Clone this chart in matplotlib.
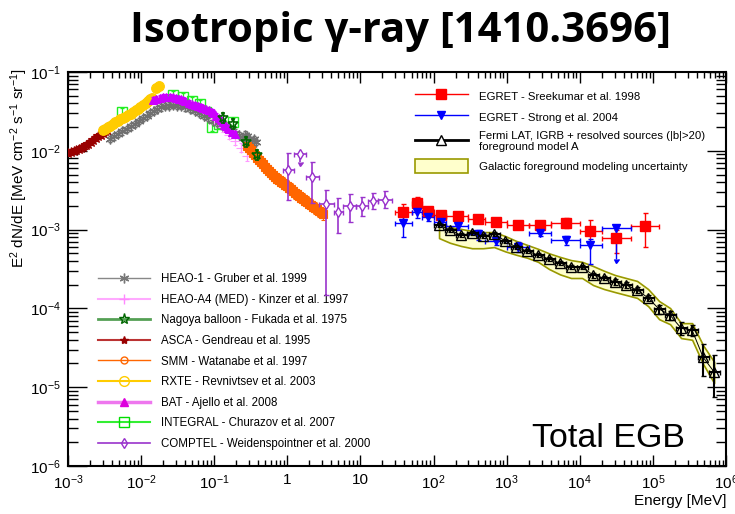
import matplotlib

matplotlib.use("Agg")
import matplotlib.pyplot as plt
import numpy as np
from matplotlib.lines import Line2D
from matplotlib.patches import Patch
from matplotlib.ticker import FuncFormatter, LogLocator, NullFormatter

plt.rcParams["font.family"] = ["Liberation Sans", "DejaVu Sans"]
plt.rcParams["mathtext.fontset"] = "custom"
plt.rcParams["mathtext.rm"] = "Liberation Sans"
plt.rcParams["mathtext.it"] = "Liberation Sans:italic"
plt.rcParams["mathtext.bf"] = "Liberation Sans:bold"

# ---- data (E in MeV, E^2 dN/dE in MeV cm^-2 s^-1 sr^-1) ----
asca_e = [1.0e-3, 1.1e-3, 1.2e-3, 1.3e-3, 1.4e-3, 1.5e-3, 1.6e-3, 1.75e-3, 1.9e-3,
          2.05e-3, 2.2e-3, 2.4e-3, 2.6e-3, 2.8e-3, 3.0e-3, 3.2e-3, 3.4e-3]
asca_f = [9.4e-3, 9.6e-3, 9.9e-3, 1.02e-2, 1.05e-2, 1.08e-2, 1.12e-2, 1.17e-2, 1.22e-2,
          1.3e-2, 1.37e-2, 1.45e-2, 1.54e-2, 1.61e-2, 1.68e-2, 1.76e-2, 1.84e-2]

rxte_e = [3.0e-3, 3.25e-3, 3.5e-3, 3.8e-3, 4.1e-3, 4.45e-3, 4.8e-3, 5.2e-3, 5.7e-3,
          6.1e-3, 6.6e-3, 7.2e-3, 7.8e-3, 8.4e-3, 9.1e-3, 9.8e-3, 1.06e-2, 1.15e-2,
          1.25e-2, 1.33e-2, 1.41e-2, 1.6e-2, 1.75e-2]
rxte_f = [1.84e-2, 1.9e-2, 1.99e-2, 2.08e-2, 2.19e-2, 2.3e-2, 2.4e-2, 2.5e-2, 2.6e-2,
          2.72e-2, 2.85e-2, 2.97e-2, 3.1e-2, 3.25e-2, 3.4e-2, 3.6e-2, 3.8e-2, 4.05e-2,
          4.3e-2, 4.5e-2, 4.7e-2, 6.3e-2, 6.6e-2]

heao1_e = [3.8e-3, 4.3e-3, 4.8e-3, 5.5e-3, 6.4e-3, 7.3e-3, 8.3e-3, 9.4e-3, 1.06e-2,
           1.2e-2, 1.33e-2, 1.5e-2, 1.65e-2, 1.9e-2, 2.13e-2, 2.4e-2, 2.7e-2, 3.1e-2,
           3.5e-2, 4.0e-2, 4.7e-2, 5.4e-2, 6.2e-2, 7.2e-2, 8.3e-2, 9.5e-2, 0.11, 0.127,
           0.146, 0.167, 0.19, 0.22, 0.25, 0.265, 0.28, 0.295, 0.31, 0.33, 0.35, 0.37]
heao1_f = [1.41e-2, 1.52e-2, 1.63e-2, 1.76e-2, 1.89e-2, 2.04e-2, 2.19e-2, 2.4e-2, 2.6e-2,
           2.8e-2, 3.0e-2, 3.2e-2, 3.4e-2, 3.55e-2, 3.7e-2, 3.75e-2, 3.8e-2, 3.75e-2,
           3.7e-2, 3.55e-2, 3.4e-2, 3.2e-2, 3.0e-2, 2.8e-2, 2.6e-2, 2.42e-2, 2.25e-2,
           2.1e-2, 1.95e-2, 1.82e-2, 1.7e-2, 1.58e-2, 1.46e-2, 1.6e-2, 1.52e-2, 1.4e-2,
           1.3e-2, 1.22e-2, 1.4e-2, 1.3e-2]

bat_e = [0.0145, 0.016, 0.018, 0.02, 0.022, 0.025, 0.0275, 0.03, 0.0325, 0.035,
         0.0375, 0.04, 0.045, 0.05, 0.055, 0.06, 0.065, 0.07, 0.077, 0.085, 0.092,
         0.1, 0.107, 0.115, 0.122, 0.13, 0.137, 0.145, 0.152, 0.16, 0.175, 0.19]
bat_f = [4.4e-2, 4.6e-2, 4.7e-2, 4.8e-2, 4.8e-2, 4.8e-2, 4.75e-2, 4.7e-2, 4.6e-2,
         4.5e-2, 4.4e-2, 4.3e-2, 4.1e-2, 3.9e-2, 3.8e-2, 3.7e-2, 3.6e-2, 3.5e-2,
         3.35e-2, 3.25e-2, 3.1e-2, 3.0e-2, 2.8e-2, 2.6e-2, 2.45e-2, 2.3e-2, 2.15e-2,
         2.05e-2, 1.97e-2, 1.9e-2, 1.75e-2, 1.65e-2]

integral_e = [5.5e-3, 2.74e-2, 3.8e-2, 5.0e-2, 6.4e-2, 7.8e-2, 9.4e-2, 0.117, 0.18]
integral_f = [3.1e-2, 5.1e-2, 4.8e-2, 4.3e-2, 3.9e-2, 3.1e-2, 2.0e-2, 2.2e-2, 2.3e-2]

heaoa4_e = [0.10, 0.13, 0.16, 0.19, 0.23, 0.28]
heaoa4_f = [2.5e-2, 2.0e-2, 1.6e-2, 1.35e-2, 1.1e-2, 8.5e-3]

nagoya_e = [0.13, 0.18, 0.27, 0.39]
nagoya_f = [2.6e-2, 2.2e-2, 1.29e-2, 8.9e-3]

smm_e = [0.283, 0.302, 0.321, 0.343, 0.365, 0.389, 0.413, 0.44, 0.469, 0.5, 0.532,
         0.567, 0.604, 0.645, 0.686, 0.73, 0.777, 0.83, 0.881, 0.94, 1.0, 1.07,
         1.135, 1.21, 1.288, 1.37, 1.46, 1.56, 1.66, 1.77, 1.88, 2.0, 2.13, 2.27,
         2.42, 2.58, 2.74, 2.92, 3.11]
smm_f = [1.15e-2, 1.08e-2, 1.02e-2, 9.5e-3, 8.85e-3, 8.2e-3, 7.64e-3, 7.2e-3, 6.8e-3,
         6.3e-3, 5.87e-3, 5.55e-3, 5.22e-3, 4.9e-3, 4.65e-3, 4.45e-3, 4.26e-3, 4.05e-3,
         3.9e-3, 3.72e-3, 3.57e-3, 3.42e-3, 3.27e-3, 3.08e-3, 2.91e-3, 2.79e-3, 2.67e-3,
         2.55e-3, 2.44e-3, 2.34e-3, 2.24e-3, 2.14e-3, 2.05e-3, 1.96e-3, 1.88e-3, 1.8e-3,
         1.72e-3, 1.65e-3, 1.58e-3]

comptel_e = [1.02, 1.48, 2.18, 3.35, 5.0, 7.1, 10.4, 14.8, 21.5]
comptel_elo = [0.86, 1.22, 1.8, 2.7, 4.3, 5.8, 8.6, 12.7, 17.5]
comptel_ehi = [1.22, 1.8, 2.7, 4.3, 5.8, 8.6, 12.7, 17.5, 27.0]
comptel_f = [5.7e-3, 9.1e-3, 4.7e-3, 2.1e-3, 1.67e-3, 2.0e-3, 2.0e-3, 2.3e-3, 2.4e-3]
comptel_fhi = [9.4e-3, 9.1e-3, 7.2e-3, 3.2e-3, 2.5e-3, 2.8e-3, 2.6e-3, 2.9e-3, 3.1e-3]
comptel_flo = [2.4e-3, 7.2e-3, 2.2e-3, 1.5e-4, 9.1e-4, 1.25e-3, 1.5e-3, 1.8e-3, 1.9e-3]
comptel_ul = [False, True, False, False, False, False, False, False, False]

egret_e = [38.8, 60, 85, 125, 214, 400, 725, 1450, 2900, 6500, 14000, 31000, 78000]
egret_elo = [30, 50, 70, 100, 150, 300, 500, 1000, 2000, 4000, 10000, 20000, 50000]
egret_ehi = [50, 70, 100, 150, 300, 500, 1000, 2000, 4000, 10000, 20000, 50000, 120000]
sreek_f = [1.67e-3, 2.2e-3, 1.72e-3, 1.53e-3, 1.48e-3, 1.36e-3, 1.25e-3, 1.15e-3,
           1.15e-3, 1.21e-3, 9.5e-4, 7.8e-4, 1.11e-3]
sreek_fhi = [2.11e-3, 2.6e-3, 1.94e-3, 1.67e-3, 1.6e-3, 1.5e-3, 1.37e-3, 1.27e-3,
             1.27e-3, 1.4e-3, 1.33e-3, 9.9e-4, 1.63e-3]
sreek_flo = [1.25e-3, 1.88e-3, 1.54e-3, 1.40e-3, 1.36e-3, 1.24e-3, 1.13e-3, 1.04e-3,
             1.04e-3, 1.05e-3, 6.7e-4, 5.0e-4, 6.0e-4]

strong_e = [38.8, 60, 85, 125, 214, 400, 725, 1450, 2900, 6500, 14000, 31000]
strong_elo = [30, 50, 70, 100, 150, 300, 500, 1000, 2000, 4000, 10000, 20000]
strong_ehi = [50, 70, 100, 150, 300, 500, 1000, 2000, 4000, 10000, 20000, 50000]
strong_f = [1.21e-3, 1.67e-3, 1.44e-3, 1.25e-3, 1.11e-3, 8.7e-4, 7.2e-4, 6.0e-4,
            9.1e-4, 7.4e-4, 6.4e-4, 1.05e-3]
strong_fhi = [1.62e-3, 1.97e-3, 1.62e-3, 1.37e-3, 1.24e-3, 9.9e-4, 8.3e-4, 6.9e-4,
              1.0e-3, 8.3e-4, 7.5e-4, 1.05e-3]
strong_flo = [8.1e-4, 1.4e-3, 1.28e-3, 1.14e-3, 1.0e-3, 7.4e-4, 6.3e-4, 5.2e-4,
              8.2e-4, 6.4e-4, 3.7e-4, 4.2e-4]
strong_ul = [False] * 11 + [True]

fermi_e = [118.9, 168.1, 237.7, 336.1, 475.3, 672.1, 950.6, 1344, 1901, 2689,
           3802, 5377, 7603, 10752, 15205, 21503, 30409, 43003, 60814, 86000,
           121619, 171989, 243220, 343950, 486407, 687860]
fermi_f = [1.15e-3, 9.9e-4, 8.5e-4, 9.0e-4, 8.3e-4, 8.8e-4, 7.2e-4, 6.0e-4,
           5.35e-4, 4.76e-4, 4.24e-4, 3.77e-4, 3.35e-4, 3.35e-4, 2.65e-4, 2.43e-4,
           2.16e-4, 1.98e-4, 1.71e-4, 1.36e-4, 9.8e-5, 8.2e-5, 5.6e-5, 5.3e-5,
           2.4e-5, 1.56e-5]
fermi_fhi = [1.22e-3, 1.05e-3, 9.0e-4, 9.5e-4, 8.8e-4, 9.3e-4, 7.6e-4, 6.35e-4,
             5.7e-4, 5.05e-4, 4.5e-4, 4.0e-4, 3.55e-4, 3.55e-4, 2.85e-4, 2.6e-4,
             2.33e-4, 2.14e-4, 1.85e-4, 1.48e-4, 1.1e-4, 9.2e-5, 6.7e-5, 6.2e-5,
             3.5e-5, 2.6e-5]
fermi_flo = [1.08e-3, 9.3e-4, 8.0e-4, 8.5e-4, 7.8e-4, 8.3e-4, 6.8e-4, 5.65e-4,
             5.0e-4, 4.47e-4, 4.0e-4, 3.55e-4, 3.15e-4, 3.15e-4, 2.45e-4, 2.26e-4,
             2.0e-4, 1.83e-4, 1.58e-4, 1.24e-4, 8.6e-5, 7.2e-5, 4.6e-5, 4.5e-5,
             1.4e-5, 7.5e-6]
band_hi = [1.2e-3, 1.08e-3, 1.02e-3, 9.6e-4, 9.3e-4, 9.3e-4, 8.3e-4, 7.2e-4,
           6.4e-4, 5.7e-4, 5.0e-4, 4.5e-4, 4.1e-4, 3.9e-4, 3.45e-4, 3.0e-4,
           2.65e-4, 2.43e-4, 2.23e-4, 1.76e-4, 1.24e-4, 1.01e-4, 6.5e-5, 6.5e-5,
           3.4e-5, 2.1e-5]
band_lo = [7.8e-4, 6.8e-4, 6.2e-4, 5.8e-4, 5.8e-4, 6.0e-4, 5.3e-4, 4.8e-4,
           4.4e-4, 3.9e-4, 3.16e-4, 2.7e-4, 2.43e-4, 2.43e-4, 1.98e-4, 1.76e-4,
           1.61e-4, 1.48e-4, 1.36e-4, 1.07e-4, 7.3e-5, 6.3e-5, 4.2e-5, 4.0e-5,
           1.97e-5, 1.13e-5]
fermi_half_bin = 10 ** 0.075

# relative scatter of the dense low-energy data sets
rel_err = {"asca": 0.10, "rxte": 0.12, "heao1": 0.10, "bat": 0.08,
           "integral": 0.12, "heaoa4": 0.15, "nagoya": 0.15, "smm": 0.18}


def dense(ax, e, f, rel, color, marker, ms, mfc=None, mew=0.8, z=2):
    f = np.asarray(f)
    ax.errorbar(e, f, yerr=[f - f / (1 + rel), f * rel], fmt="", marker=marker,
                ms=ms, color=color, mfc=mfc if mfc else color, mec=color, mew=mew,
                elinewidth=0.9, capsize=1.5, ls="none", zorder=z)


def binned(ax, e, elo, ehi, f, flo, fhi, color, marker, ms, mfc, z,
           uplims=None, elw=1.0):
    e, f = np.asarray(e), np.asarray(f)
    xerr = [e - np.asarray(elo), np.asarray(ehi) - e]
    yerr = [f - np.asarray(flo), np.asarray(fhi) - f]
    ax.errorbar(e, f, xerr=xerr, yerr=yerr, fmt="", marker=marker, ms=ms,
                color=color, mfc=mfc, mec=color, mew=1.0, elinewidth=elw,
                capsize=1.8, ls="none",
                uplims=uplims if uplims is not None else False, zorder=z)


fig = plt.figure(figsize=(7.35, 5.14), dpi=100)
ax = fig.add_axes([68 / 735, 1 - 466 / 514, 658 / 735, 394 / 514])
ax.set_xscale("log")
ax.set_yscale("log")
ax.set_xlim(1e-3, 1e6)
ax.set_ylim(1e-6, 1e-1)

dense(ax, integral_e, integral_f, rel_err["integral"], "#22ee22", "s", 7, mfc="none", mew=1.0, z=2)
dense(ax, heao1_e, heao1_f, rel_err["heao1"], "#707070", (6, 2, 0), 7, mew=1.0, z=3)
dense(ax, heaoa4_e, heaoa4_f, rel_err["heaoa4"], "#ff99ff", "+", 7, z=3)
dense(ax, smm_e, smm_f, rel_err["smm"], "#ff6600", "s", 6, z=3)
dense(ax, asca_e, asca_f, rel_err["asca"], "#990000", "*", 7, z=4)
dense(ax, rxte_e, rxte_f, rel_err["rxte"], "#ffcc00", "o", 7, z=4)
dense(ax, bat_e, bat_f, rel_err["bat"], "#cc00ff", "^", 6, z=5)
dense(ax, nagoya_e, nagoya_f, rel_err["nagoya"], "#006600", "*", 8, mfc="none", mew=1.2, z=6)
binned(ax, comptel_e, comptel_elo, comptel_ehi, comptel_f, comptel_flo, comptel_fhi,
       "#9933cc", "d", 5, "white", 6, uplims=comptel_ul, elw=1.2)

ax.fill_between(fermi_e, band_lo, band_hi, facecolor="#ffffcc",
                edgecolor="#999900", linewidth=1.2, zorder=6)
binned(ax, egret_e, egret_elo, egret_ehi, sreek_f, sreek_flo, sreek_fhi,
       "#ff0000", "s", 7, "#ff0000", 7)
binned(ax, strong_e, strong_elo, strong_ehi, strong_f, strong_flo, strong_fhi,
       "#0000ff", "v", 6, "#0000ff", 7, uplims=strong_ul)
fe = np.asarray(fermi_e)
binned(ax, fermi_e, fe / fermi_half_bin, fe * fermi_half_bin, fermi_f, fermi_flo,
       fermi_fhi, "black", "^", 6.5, "none", 8, elw=1.5)
ax.plot(fermi_e, fermi_f, color="black", lw=0.7, zorder=8)


def decade_label(v, pos):
    n = int(round(np.log10(v)))
    if n == 0:
        return "1"
    if n == 1:
        return "10"
    return rf"$10^{{{n}}}$"


for axis in (ax.xaxis, ax.yaxis):
    axis.set_major_locator(LogLocator(base=10, numticks=20))
    axis.set_minor_locator(LogLocator(base=10, subs=np.arange(2, 10), numticks=20))
    axis.set_major_formatter(FuncFormatter(decade_label))
    axis.set_minor_formatter(NullFormatter())

ax.tick_params(axis="both", which="both", direction="in", top=True, right=True,
               labelsize=11, width=1.0)
ax.tick_params(axis="x", which="major", length=8, pad=5)
ax.tick_params(axis="x", which="minor", length=4)
ax.tick_params(axis="y", which="major", length=14, pad=5)
ax.tick_params(axis="y", which="minor", length=7)
for sp in ax.spines.values():
    sp.set_linewidth(1.5)

ax.set_xlabel("Energy [MeV]", fontsize=11, loc="right")
ax.xaxis.set_label_coords(1.0, -0.07)
ax.set_ylabel(r"E$^{2}$ dN/dE [MeV cm$^{-2}$ s$^{-1}$ sr$^{-1}$]", fontsize=11, loc="top")
ax.yaxis.set_label_coords(-0.058, 1.010)

ax.text(0.938, 0.048, "Total EGB", transform=ax.transAxes, ha="right",
        va="baseline", fontsize=24.5)

left_handles = [
    Line2D([], [], color="#888888", lw=1, marker=(6, 2, 0), ms=7, mec="#777777"),
    Line2D([], [], color="#ffaaff", lw=1.5, marker="+", ms=7, mec="#ff88ff"),
    Line2D([], [], color="#55a055", lw=2, marker="*", ms=8, mfc="none", mec="#006600"),
    Line2D([], [], color="#bb3333", lw=1.5, marker="*", ms=6, mfc="#990000", mec="#990000"),
    Line2D([], [], color="#ff6600", lw=1, marker="o", ms=5, mfc="none", mec="#ff6600"),
    Line2D([], [], color="#ffcc00", lw=1.5, marker="o", ms=7, mfc="none", mec="#ffcc00"),
    Line2D([], [], color="#ee77ee", lw=2.5, marker="^", ms=6, mfc="#dd00dd", mec="#dd00dd"),
    Line2D([], [], color="#33ee33", lw=1.5, marker="s", ms=7, mfc="none", mec="#00dd00"),
    Line2D([], [], color="#9933cc", lw=1.2, marker="d", ms=5, mfc="none", mec="#9933cc"),
]
left_labels = [
    "HEAO-1 - Gruber et al. 1999",
    "HEAO-A4 (MED) - Kinzer et al. 1997",
    "Nagoya balloon - Fukada et al. 1975",
    "ASCA - Gendreau et al. 1995",
    "SMM - Watanabe et al. 1997",
    "RXTE - Revnivtsev et al. 2003",
    "BAT - Ajello et al. 2008",
    "INTEGRAL - Churazov et al. 2007",
    "COMPTEL - Weidenspointner et al. 2000",
]
leg1 = ax.legend(left_handles, left_labels, loc="upper left",
                 bbox_to_anchor=(0.0456, 0.490), frameon=False, fontsize=8.3,
                 handlelength=4.5, handletextpad=1.0, labelspacing=0.75,
                 borderpad=0, borderaxespad=0)
ax.add_artist(leg1)

right_handles = [
    Line2D([], [], color="#ff0000", lw=1, marker="s", ms=7),
    Line2D([], [], color="#0000ff", lw=1, marker="v", ms=6),
    Line2D([], [], color="black", lw=2, marker="^", ms=7, mfc="white"),
    Patch(facecolor="#ffffcc", edgecolor="#999900", linewidth=1.2),
]
right_labels = [
    "EGRET - Sreekumar et al. 1998",
    "EGRET - Strong et al. 2004",
    "Fermi LAT, IGRB + resolved sources (|b|>20)\nforeground model A",
    "Galactic foreground modeling uncertainty",
]
ax.legend(right_handles, right_labels, loc="upper left",
          bbox_to_anchor=(0.527, 0.957), frameon=False, fontsize=8.2,
          handlelength=4.65, handleheight=1.6, handletextpad=0.97,
          labelspacing=0.55, borderpad=0, borderaxespad=0)

title = fig.text(401 / 735, 1 - 42 / 514, "Isotropic γ-ray [1410.3696]",
                 ha="center", va="baseline", fontsize=28, fontweight="bold",
                 family=["Open Sans", "DejaVu Sans"])
fig.canvas.draw()
w = title.get_window_extent().width
title.set_fontsize(28 * 540 / w)

fig.savefig("out.png", dpi=100)
